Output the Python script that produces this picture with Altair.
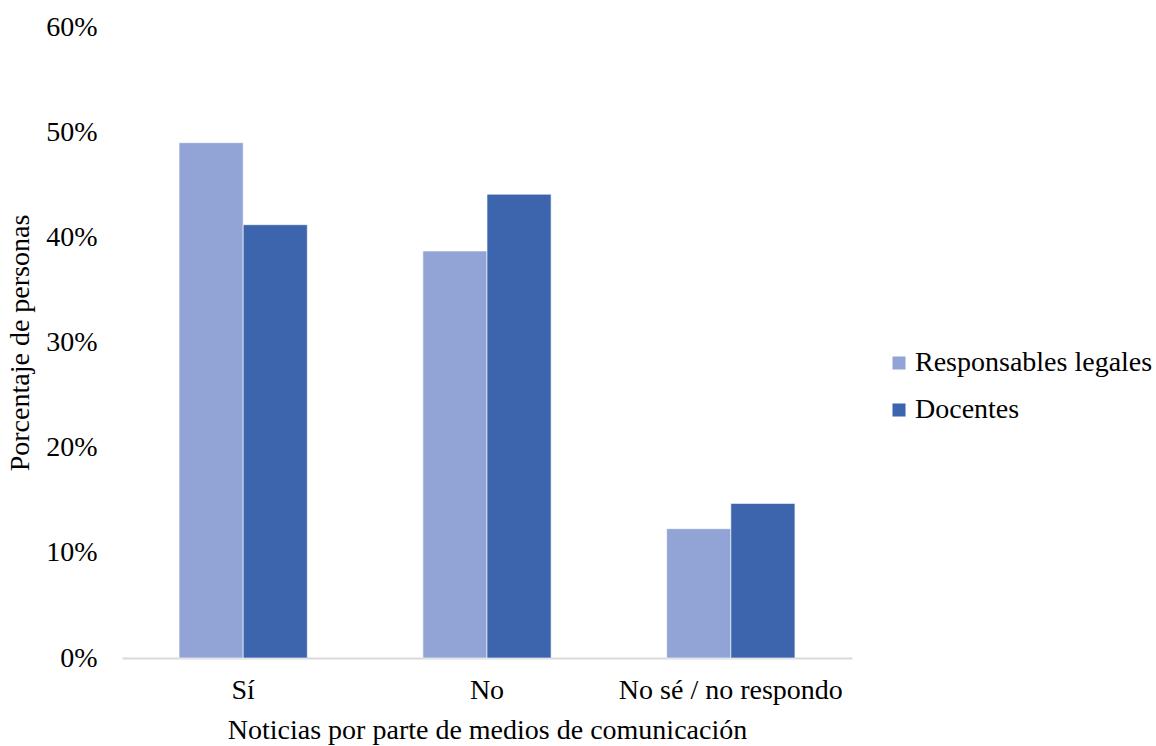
import altair as alt
import pandas as pd

categories = ["Sí", "No", "No sé / no respondo"]
groups = ["Responsables legales", "Docentes"]
responsables = [0.49, 0.387, 0.123]
docentes = [0.412, 0.441, 0.147]

rows = []
for i, cat in enumerate(categories):
    rows.append({"respuesta": cat, "grupo": groups[0], "valor": responsables[i]})
    rows.append({"respuesta": cat, "grupo": groups[1], "valor": docentes[i]})
df = pd.DataFrame(rows)

FONT = "Liberation Serif"
SIZE = 28

chart = (
    alt.Chart(df)
    .mark_bar(stroke="white", strokeWidth=0.6)
    .encode(
        x=alt.X(
            "respuesta:N",
            sort=categories,
            scale=alt.Scale(paddingInner=0.474, paddingOuter=0.234),
            axis=alt.Axis(
                title="Noticias por parte de medios de comunicación",
                labelAngle=0,
                ticks=False,
                domainColor="#D9D9D9",
                domainWidth=2,
                labelPadding=18,
                labelLimit=400,
                titlePadding=12,
            ),
        ),
        xOffset=alt.XOffset("grupo:N", sort=groups),
        y=alt.Y(
            "valor:Q",
            scale=alt.Scale(domain=[0, 0.6]),
            axis=alt.Axis(
                title="Porcentaje de personas",
                format=".0%",
                values=[0, 0.1, 0.2, 0.3, 0.4, 0.5, 0.6],
                grid=False,
                domain=False,
                ticks=False,
                labelPadding=25,
                titlePadding=11,
            ),
        ),
        color=alt.Color(
            "grupo:N",
            sort=groups,
            scale=alt.Scale(domain=groups, range=["#91A4D5", "#3C65AE"]),
            legend=alt.Legend(
                title=None,
                orient="none",
                legendX=763,
                legendY=322,
                symbolType="square",
                symbolSize=170,
                symbolStrokeWidth=0,
                rowPadding=19,
                labelOffset=2,
            ),
        ),
    )
    .properties(
        width=730,
        height=631,
        padding={"left": 122, "top": 27, "right": 304, "bottom": 88},
        autosize=alt.AutoSizeParams(type="none"),
    )
    .configure_view(stroke=None)
    .configure_axis(
        labelFont=FONT,
        titleFont=FONT,
        labelFontSize=SIZE,
        titleFontSize=SIZE,
        labelColor="black",
        titleColor="black",
        titleFontWeight="normal",
    )
    .configure_legend(labelFont=FONT, labelFontSize=SIZE, labelColor="black", labelLimit=400)
)

chart.save("out.html", embed_options={"renderer": "svg", "actions": False})
